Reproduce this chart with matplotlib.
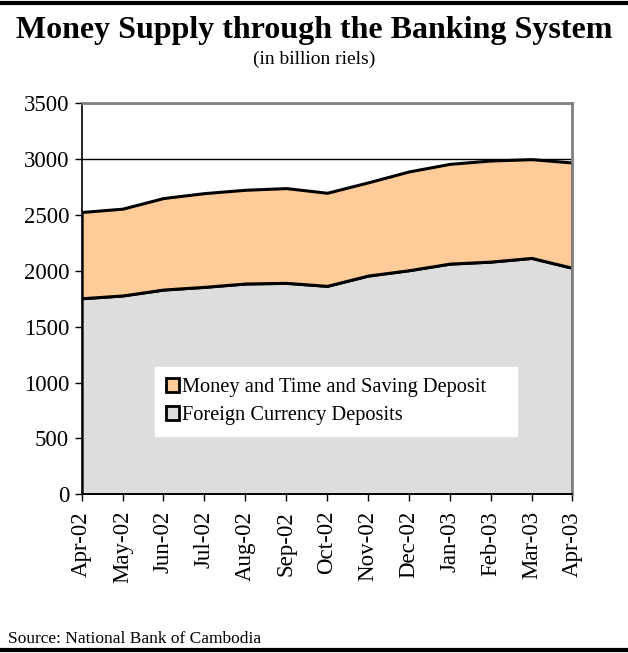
import matplotlib.pyplot as plt
from matplotlib.lines import Line2D
from matplotlib.patches import Patch
import numpy as np

months = ['Apr-02', 'May-02', 'Jun-02', 'Jul-02', 'Aug-02', 'Sep-02', 'Oct-02',
          'Nov-02', 'Dec-02', 'Jan-03', 'Feb-03', 'Mar-03', 'Apr-03']
foreign_currency = [1755, 1780, 1833, 1857, 1887, 1893, 1866, 1958, 2006, 2065, 2083, 2116, 2027]
money_time_saving = [772, 777, 819, 839, 839, 848, 833, 834, 884, 893, 905, 884, 943]
labels = ['Money and Time and Saving Deposit', 'Foreign Currency Deposits']
y_ticks = [0, 500, 1000, 1500, 2000, 2500, 3000, 3500]

plt.rcParams['font.family'] = ['Liberation Serif', 'DejaVu Serif']

fig = plt.figure(figsize=(6.28, 6.53), dpi=100)
ax = fig.add_axes([0.130, 0.243, 0.7816, 0.5988])

x = np.arange(len(months))
ax.stackplot(x, foreign_currency, money_time_saving,
             colors=['#DDDDDD', '#FFCC99'], edgecolor='black', linewidth=2.2, zorder=2)

ax.set_xlim(0, len(months) - 1)
ax.set_ylim(0, 3500)
ax.set_yticks(y_ticks)
ax.set_xticks(x)
ax.set_xticklabels(months, rotation=90)
ax.tick_params(axis='both', direction='out', length=5, labelsize=16.5, width=1)
ax.tick_params(axis='x', pad=7)
ax.tick_params(axis='y', pad=4)
ax.yaxis.grid(True, color='black', linewidth=1, zorder=0)
ax.set_axisbelow(True)

for side in ['top', 'right']:
    ax.spines[side].set_color('#808080')
    ax.spines[side].set_linewidth(2)
for side in ['left', 'bottom']:
    ax.spines[side].set_color('black')
    ax.spines[side].set_linewidth(1.2)

handles = [Patch(facecolor='#FFCC99', edgecolor='black', linewidth=2),
           Patch(facecolor='#DDDDDD', edgecolor='black', linewidth=2)]
leg = ax.legend(handles, labels, loc='upper left', bbox_to_anchor=(0.149, 0.326, 0.738, 0.0),
                mode='expand', fontsize=14.7, frameon=True, fancybox=False,
                handlelength=0.65, handleheight=0.65, handletextpad=0.12,
                borderpad=0.55, labelspacing=0.45, borderaxespad=0)
leg.get_frame().set_facecolor('white')
leg.get_frame().set_edgecolor('white')
leg.get_frame().set_alpha(1)

fig.text(0.5, 0.953, 'Money Supply through the Banking System', ha='center', va='center',
         fontsize=23, fontweight='bold')
fig.text(0.5, 0.909, '(in billion riels)', ha='center', va='center', fontsize=14)
fig.text(0.012, 0.022, 'Source: National Bank of Cambodia', ha='left', va='center', fontsize=12.5)

fig.add_artist(Line2D([0, 1], [0.995, 0.995], color='black', linewidth=3, transform=fig.transFigure))
fig.add_artist(Line2D([0, 1], [0.004, 0.004], color='black', linewidth=3, transform=fig.transFigure))

fig.savefig('out.png', dpi=100)
